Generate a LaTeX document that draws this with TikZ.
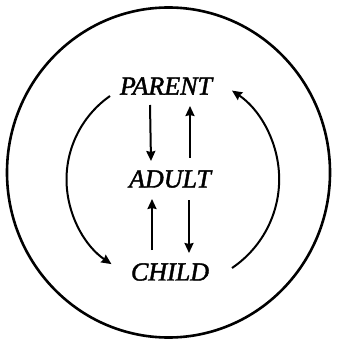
\documentclass[tikz,border=0pt]{standalone}
\usepackage{fontspec}
\setmainfont{Liberation Serif}
\newfontfamily\lblfont[ItalicFont={Liberation Serif Italic}, ItalicFeatures={FakeBold=1.6}]{Liberation Serif}
\usetikzlibrary{arrows.meta}
\begin{document}
\begin{tikzpicture}[x=1pt,y=1pt,
  lbl/.style={font=\lblfont\fontsize{26}{26}\selectfont\itshape, inner sep=0pt, text=black},
  arr/.style={line width=2pt, -{Stealth[length=10pt,width=9pt,inset=1pt]}}]
\useasboundingbox (0,0) rectangle (337,-344);
\draw[line width=2.6pt] (168.5,-172.5) ellipse[x radius=161.5, y radius=165];
\node[lbl] (parent) at (166,-86) {PARENT};
\node[lbl] (adult) at (170,-179) {ADULT};
\node[lbl] (child) at (170,-272) {CHILD};
% vertical arrows
\coordinate (pa1) at (150,-105);
\coordinate (ap1) at (151,-161);
\coordinate (ap2) at (190,-158);
\coordinate (pa2) at (190,-106);
\coordinate (ac1) at (152,-250);
\coordinate (ca1) at (152,-199);
\coordinate (ac2) at (189,-200);
\coordinate (ca2) at (189,-253);
\draw[arr] (pa1) -- (ap1);
\draw[arr] (ap2) -- (pa2);
\draw[arr] (ac1) -- (ca1);
\draw[arr] (ac2) -- (ca2);
% curved arrows
\coordinate (pl) at (110,-96);
\coordinate (cr) at (232,-268);
\draw[arr] (pl) arc[start angle=125, end angle=236, radius=102];
\draw[arr] (cr) arc[start angle=-56, end angle=56, radius=107];
\end{tikzpicture}
\end{document}
